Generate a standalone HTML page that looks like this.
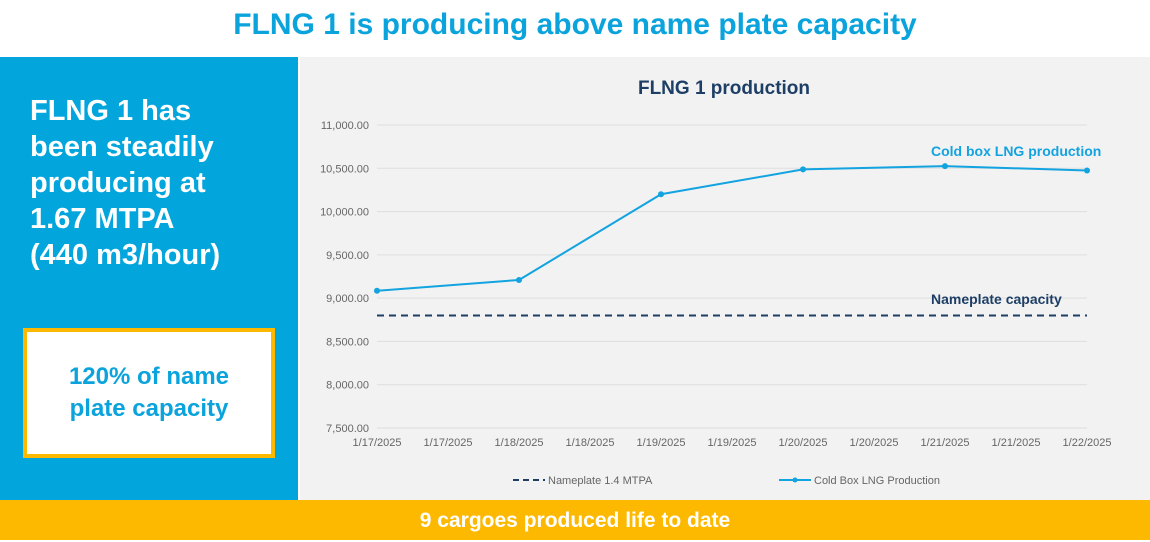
<!DOCTYPE html>
<html><head><meta charset="utf-8">
<style>
body{margin:0;width:1150px;height:540px;overflow:hidden;font-family:"Liberation Sans",sans-serif;background:#fff;position:relative}
#title{position:absolute;left:0;top:0;width:1150px;height:56px;text-align:center;line-height:50px;font-size:30px;font-weight:bold;color:#0aa3dc}
#left{position:absolute;left:0;top:57px;width:298px;height:443px;background:#03a5dd}
#lefttext{position:absolute;left:30px;top:36px;color:#fff;font-size:29px;font-weight:bold;line-height:36px}
#box{position:absolute;left:23px;top:271px;width:244px;height:122px;border:4px solid #fdb900;background:#fff;color:#0aa3dc;font-size:24px;font-weight:bold;text-align:center;line-height:32px;display:flex;align-items:center;justify-content:center}
#chartbg{position:absolute;left:300px;top:57px;width:850px;height:443px;background:#f2f2f2}
#bottom{position:absolute;left:0;top:500px;width:1150px;height:40px;background:#fdb900;color:#fff;font-size:21px;font-weight:bold;text-align:center;line-height:42px}
svg{position:absolute;left:0;top:0}
</style></head><body>
<div id="title">FLNG 1 is producing above name plate capacity</div>
<div id="left">
<div id="lefttext">FLNG 1 has<br>been steadily<br>producing at<br>1.67 MTPA<br>(440 m3/hour)</div>
<div id="box"><div>120% of name<br>plate capacity</div></div>
</div>
<div id="chartbg"></div>
<div id="bottom">9 cargoes produced life to date</div>
<svg id="chart" width="1150" height="540"></svg>
<script>
const xLabels=["1/17/2025","1/17/2025","1/18/2025","1/18/2025","1/19/2025","1/19/2025","1/20/2025","1/20/2025","1/21/2025","1/21/2025","1/22/2025"];
const pointIdx=[0,2,4,6,8,10];
const production=[9085,9210,10200,10487,10525,10475];
const nameplate=8800;
const yTicks=[7500,8000,8500,9000,9500,10000,10500,11000];
const yTickLabels=["7,500.00","8,000.00","8,500.00","9,000.00","9,500.00","10,000.00","10,500.00","11,000.00"];
const svg=document.getElementById('chart');
const NS='http://www.w3.org/2000/svg';
const x0=377,x1=1087,yMin=7500,yMax=11000,yTop=125,yBot=428;
const xs=i=>x0+i*(x1-x0)/(xLabels.length-1);
const ys=v=>yBot-(v-yMin)/(yMax-yMin)*(yBot-yTop);
function mk(t,a,txt){const e=document.createElementNS(NS,t);for(const k in a)e.setAttribute(k,a[k]);if(txt!==undefined)e.textContent=txt;svg.appendChild(e);return e;}
let e=mk('text',{x:724,y:94,'text-anchor':'middle','font-size':19,'font-weight':'bold',fill:'#1d3f66'},'FLNG 1 production');

yTicks.forEach((v,i)=>{
 let g=mk('line',{x1:x0,x2:x1,y1:ys(v),y2:ys(v),stroke:'#dedede','stroke-width':1});
 
 let t=mk('text',{x:369,y:ys(v)+4,'text-anchor':'end','font-size':11,fill:'#666'},yTickLabels[i]);
 
});
xLabels.forEach((l,i)=>{
 let t=mk('text',{x:xs(i),y:446,'text-anchor':'middle','font-size':11,fill:'#666'},l);
 
});
let np=mk('line',{x1:x0,x2:x1,y1:ys(nameplate),y2:ys(nameplate),stroke:'#1d3f66','stroke-width':2,'stroke-dasharray':'7,5'});

let pts=production.map((v,i)=>xs(pointIdx[i])+','+ys(v)).join(' ');
let pl=mk('polyline',{points:pts,fill:'none',stroke:'#12a3e0','stroke-width':2});

production.forEach((v,i)=>{
 let c=mk('circle',{cx:xs(pointIdx[i]),cy:ys(v),r:3,fill:'#12a3e0'});
 
});
let a1=mk('text',{x:931,y:156,'font-size':14,'font-weight':'bold',fill:'#12a3e0'},'Cold box LNG production');

let a2=mk('text',{x:931,y:304,'font-size':14,'font-weight':'bold',fill:'#1d3f66'},'Nameplate capacity');

let l1=mk('line',{x1:513,x2:545,y1:480,y2:480,stroke:'#1d3f66','stroke-width':2,'stroke-dasharray':'6,4'});

let lt1=mk('text',{x:548,y:484,'font-size':11,fill:'#666'},'Nameplate 1.4 MTPA');

let l2=mk('line',{x1:779,x2:811,y1:480,y2:480,stroke:'#12a3e0','stroke-width':2});

let lc=mk('circle',{cx:795,cy:480,r:2.5,fill:'#12a3e0'});

let lt2=mk('text',{x:814,y:484,'font-size':11,fill:'#666'},'Cold Box LNG Production');

</script>
</body></html>
